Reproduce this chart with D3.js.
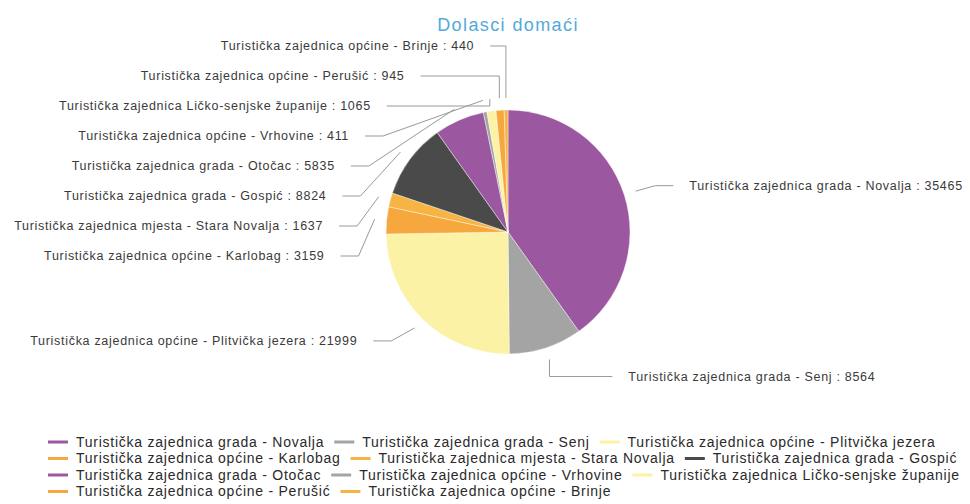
<!DOCTYPE html>
<html>
<head>
<meta charset="utf-8">
<script src="https://cdn.jsdelivr.net/npm/d3@7"></script>
<style>
body { margin: 0; background: #fff; }
text { font-family: "Liberation Sans", Arial, sans-serif; }
</style>
</head>
<body>
<script>
// data
var chartTitle = "Dolasci domaći";
var names = [
  "Turistička zajednica grada - Novalja",
  "Turistička zajednica grada - Senj",
  "Turistička zajednica općine - Plitvička jezera",
  "Turistička zajednica općine - Karlobag",
  "Turistička zajednica mjesta - Stara Novalja",
  "Turistička zajednica grada - Gospić",
  "Turistička zajednica grada - Otočac",
  "Turistička zajednica općine - Vrhovine",
  "Turistička zajednica Ličko-senjske županije",
  "Turistička zajednica općine - Perušić",
  "Turistička zajednica općine - Brinje"
];
var values = [35465, 8564, 21999, 3159, 1637, 8824, 5835, 411, 1065, 945, 440];
var palette = ["#9b58a0", "#a4a4a4", "#fcf2a6", "#f6a83f", "#f7b443", "#4a4a4a"];

var width = 970, height = 504;
var cx = 508, cy = 232, radius = 122;

var svg = d3.select("body").append("svg")
            .attr("width", width)
            .attr("height", height);

svg.append("text")
   .attr("x", cx)
   .attr("y", 31)
   .attr("text-anchor", "middle")
   .style("font-size", "18px")
   .style("letter-spacing", "1.4px")
   .style("fill", "#52aadb")
   .text(chartTitle);

var data = names.map(function(n, i){
  return { name: n, value: values[i], color: palette[i % palette.length] };
});

var pie = d3.pie().sort(null).value(function(d){ return d.value; });
var arcs = pie(data);
var arc = d3.arc().innerRadius(0).outerRadius(radius);

var g = svg.append("g").attr("transform", "translate(" + cx + "," + cy + ")");
g.selectAll("path").data(arcs).enter().append("path")
 .attr("d", arc)
 .attr("fill", function(d){ return d.data.color; })
 .attr("stroke", "#fff")
 .attr("stroke-width", 0.4);

// ---- data labels ----
var labelR = radius + 30, ringR = 190, minGap = 30, topY = 46, bottomY = 400;

function polar(r, a){ return [cx + r * Math.sin(a), cy - r * Math.cos(a)]; }

arcs.forEach(function(d){
  d.mid = (d.startAngle + d.endAngle) / 2;
  d.left = d.mid > Math.PI;
  d.ty = cy - labelR * Math.cos(d.mid);
});

function clusterStart(c){
  var s = d3.mean(c, function(d, k){ return d.ty - k * minGap; });
  return Math.max(topY, Math.min(bottomY - (c.length - 1) * minGap, s));
}
function spread(list){
  list.sort(function(a, b){ return a.ty - b.ty; });
  var cl = [];
  list.forEach(function(d){
    cl.push([d]);
    while (cl.length > 1) {
      var c = cl[cl.length - 1], p = cl[cl.length - 2];
      if (clusterStart(p) + p.length * minGap > clusterStart(c)) {
        cl.pop();
        cl[cl.length - 1] = p.concat(c);
      } else break;
    }
  });
  cl.forEach(function(c){
    var s = clusterStart(c);
    c.forEach(function(d, k){ d.ly = s + k * minGap; });
  });
}
spread(arcs.filter(function(d){ return d.left; }));
spread(arcs.filter(function(d){ return !d.left; }));

var labels = svg.append("g");
arcs.forEach(function(d){
  var dy = d.ly - cy;
  var off = Math.sqrt(Math.max(0, ringR * ringR - dy * dy));
  var tx = d.left ? cx - off + 5 : cx + off - 3;
  var sgn = d.left ? 1 : -1;
  var A = polar(radius + 12, d.mid);
  var C = [tx + sgn * 16, d.ly];
  var B = [C[0] + sgn * 18, d.ly];
  if (Math.abs(dy) > radius + 2) B[0] = A[0];

  labels.append("path")
        .attr("d", "M" + C + "L" + B + "L" + A)
        .attr("fill", "none")
        .attr("stroke", "#999")
        .attr("stroke-width", 1);

  labels.append("text")
        .attr("x", tx)
        .attr("y", d.ly)
        .attr("dy", "0.35em")
        .attr("text-anchor", d.left ? "end" : "start")
        .style("font-size", "12.5px")
        .style("letter-spacing", "0.7px")
        .style("fill", "#3a3a3a")
        .text(d.data.name + " : " + d.data.value);
});

// ---- legend ----
var legX0 = 48, legMax = 966, legY0 = 442, legRow = 16.5;
var legend = svg.append("g");
var lx = legX0, row = 0;
data.forEach(function(d){
  var item = legend.append("g");
  var t = item.append("text")
              .attr("x", 28)
              .attr("dy", "0.35em")
              .style("font-size", "14px")
              .style("letter-spacing", "0.75px")
              .style("fill", "#2a2a2a")
              .text(d.name);
  item.append("line")
      .attr("x1", 0).attr("x2", 20)
      .attr("stroke", d.color)
      .attr("stroke-width", 3);
  var w = 28 + t.node().getComputedTextLength();
  if (lx > legX0 && lx + w > legMax) { row++; lx = legX0; }
  item.attr("transform", "translate(" + lx + "," + (legY0 + row * legRow) + ")");
  lx += w + 10;
});
</script>
</body>
</html>
